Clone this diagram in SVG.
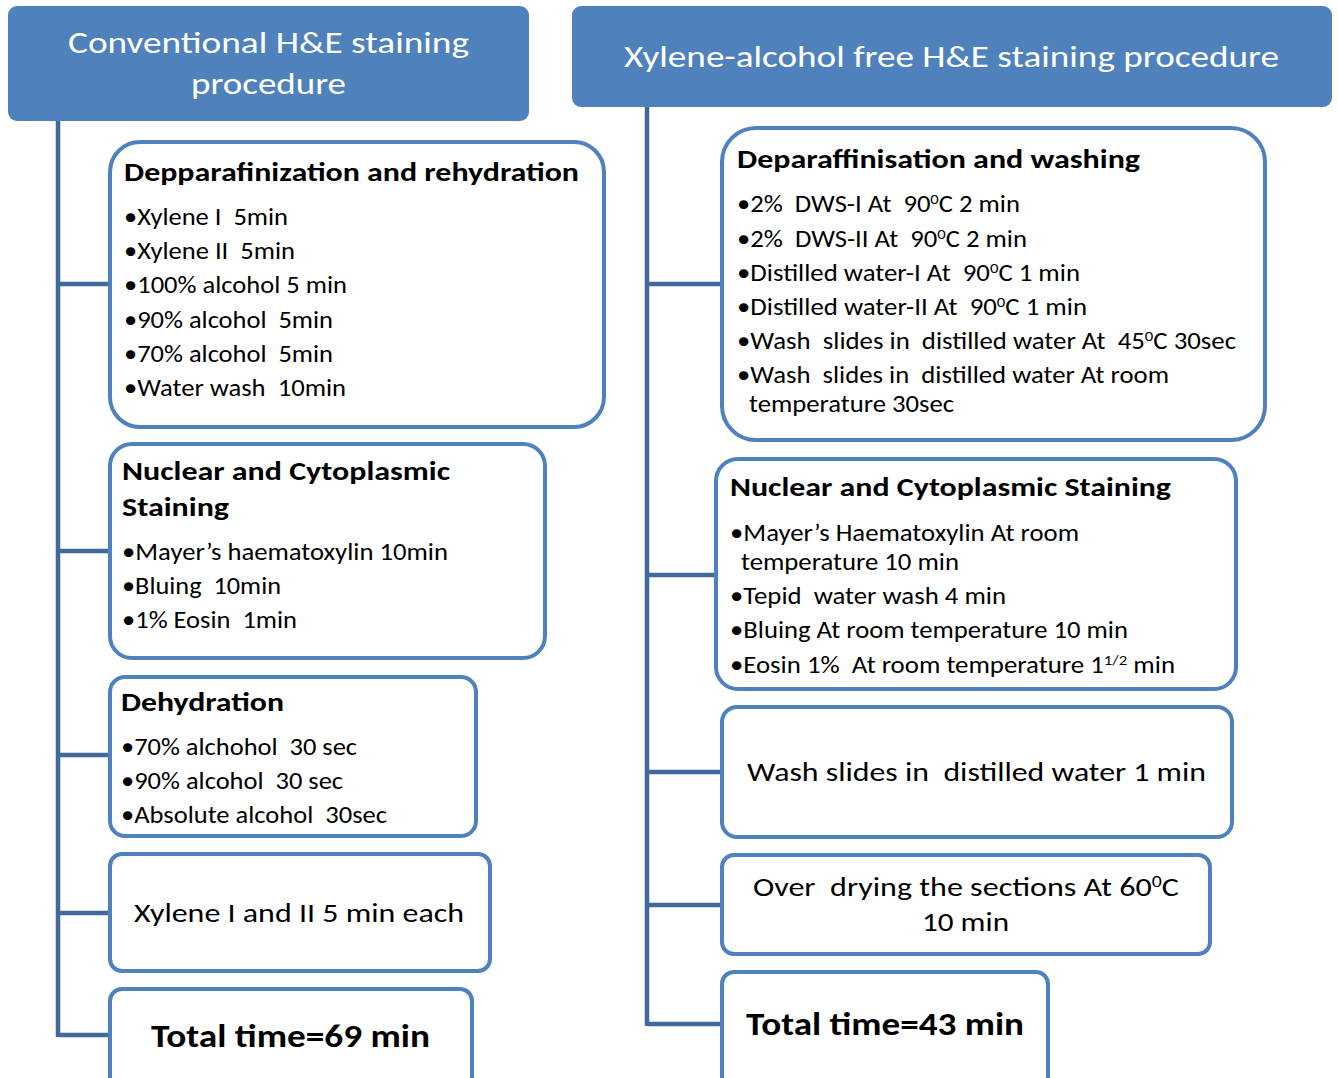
<svg xmlns="http://www.w3.org/2000/svg" width="1338" height="1078" viewBox="0 0 1338 1078" xml:space="preserve">
<style>
.hdr{fill:#4f81bd;stroke:none}
.box{fill:#ffffff;stroke:#4f81bd;stroke-width:4}
.conn{stroke:#41699c;stroke-width:4.5;fill:none}
text{font-family:Carlito,"Open Sans","Noto Sans",sans-serif;fill:#000;white-space:pre}
.ht{fill:#ffffff;font-size:31px}
.t{font-size:27px;font-weight:bold}
.b{font-size:24px}
.c{font-size:26px}
.tot{font-size:32px;font-weight:bold}
</style>
<rect width="1338" height="1078" fill="#ffffff"/>
<g id="connectors">
<path class="conn" d="M58 121V1037M58 284H110M58 551H110M58 755H110M58 913H110M58 1035H110"/>
<path class="conn" d="M647 107V1026M647 284H722M647 575H716M647 772H722M647 905H722M647 1024H722"/>
</g>
<g id="hdr-left">
<rect class="hdr" x="8" y="6" width="521" height="115" rx="9"/>
<text class="ht" x="68" y="53" textLength="401" lengthAdjust="spacingAndGlyphs">Conventional H&amp;E staining</text>
<text class="ht" x="191" y="94" textLength="155" lengthAdjust="spacingAndGlyphs">procedure</text>
</g>
<g id="hdr-right">
<rect class="hdr" x="572" y="6" width="760" height="101" rx="9"/>
<text class="ht" x="624" y="67" textLength="655" lengthAdjust="spacingAndGlyphs">Xylene-alcohol free H&amp;E staining procedure</text>
</g>
<g id="l1">
<rect class="box" x="110" y="142" width="494" height="285" rx="30"/>
<text class="t" x="124" y="181" textLength="455" lengthAdjust="spacingAndGlyphs">Depparafinization and rehydration</text>
<text class="b" x="124" y="225" textLength="164" lengthAdjust="spacingAndGlyphs">•Xylene I  5min</text>
<text class="b" x="124" y="259" textLength="171" lengthAdjust="spacingAndGlyphs">•Xylene II  5min</text>
<text class="b" x="124" y="293" textLength="223" lengthAdjust="spacingAndGlyphs">•100% alcohol 5 min</text>
<text class="b" x="124" y="328" textLength="209" lengthAdjust="spacingAndGlyphs">•90% alcohol  5min</text>
<text class="b" x="124" y="362" textLength="209" lengthAdjust="spacingAndGlyphs">•70% alcohol  5min</text>
<text class="b" x="124" y="396" textLength="222" lengthAdjust="spacingAndGlyphs">•Water wash  10min</text>
</g>
<g id="l2">
<rect class="box" x="110" y="444" width="435" height="214" rx="22"/>
<text class="t" x="122" y="480" textLength="328" lengthAdjust="spacingAndGlyphs">Nuclear and Cytoplasmic</text>
<text class="t" x="122" y="516" textLength="107" lengthAdjust="spacingAndGlyphs">Staining</text>
<text class="b" x="122" y="560" textLength="326" lengthAdjust="spacingAndGlyphs">•Mayer’s haematoxylin 10min</text>
<text class="b" x="122" y="594" textLength="159" lengthAdjust="spacingAndGlyphs">•Bluing  10min</text>
<text class="b" x="122" y="628" textLength="175" lengthAdjust="spacingAndGlyphs">•1% Eosin  1min</text>
</g>
<g id="l3">
<rect class="box" x="110" y="677" width="366" height="159" rx="15"/>
<text class="t" x="121" y="711" textLength="163" lengthAdjust="spacingAndGlyphs">Dehydration</text>
<text class="b" x="121" y="755" textLength="236" lengthAdjust="spacingAndGlyphs">•70% alchohol  30 sec</text>
<text class="b" x="121" y="789" textLength="222" lengthAdjust="spacingAndGlyphs">•90% alcohol  30 sec</text>
<text class="b" x="121" y="823" textLength="266" lengthAdjust="spacingAndGlyphs">•Absolute alcohol  30sec</text>
</g>
<g id="l4">
<rect class="box" x="110" y="854" width="380" height="117" rx="12"/>
<text class="c" x="134" y="922" textLength="330" lengthAdjust="spacingAndGlyphs">Xylene I and II 5 min each</text>
</g>
<g id="l5">
<rect class="box" x="110" y="989" width="362" height="110" rx="12"/>
<text class="tot" x="151" y="1047" textLength="279" lengthAdjust="spacingAndGlyphs">Total time=69 min</text>
</g>
<g id="r1">
<rect class="box" x="722" y="128" width="543" height="312" rx="34"/>
<text class="t" x="737" y="168" textLength="403" lengthAdjust="spacingAndGlyphs">Deparaffinisation and washing</text>
<text class="b" x="737" y="212" textLength="283" lengthAdjust="spacingAndGlyphs">•2%  DWS-I At  90<tspan dy="-8" font-size="15">0</tspan><tspan dy="8">C 2 min</tspan></text>
<text class="b" x="737" y="247" textLength="290" lengthAdjust="spacingAndGlyphs">•2%  DWS-II At  90<tspan dy="-8" font-size="15">0</tspan><tspan dy="8">C 2 min</tspan></text>
<text class="b" x="737" y="281" textLength="343" lengthAdjust="spacingAndGlyphs">•Distilled water-I At  90<tspan dy="-8" font-size="15">0</tspan><tspan dy="8">C 1 min</tspan></text>
<text class="b" x="737" y="315" textLength="350" lengthAdjust="spacingAndGlyphs">•Distilled water-II At  90<tspan dy="-8" font-size="15">0</tspan><tspan dy="8">C 1 min</tspan></text>
<text class="b" x="737" y="349" textLength="499" lengthAdjust="spacingAndGlyphs">•Wash  slides in  distilled water At  45<tspan dy="-8" font-size="15">0</tspan><tspan dy="8">C 30sec</tspan></text>
<text class="b" x="737" y="383" textLength="432" lengthAdjust="spacingAndGlyphs">•Wash  slides in  distilled water At room</text>
<text class="b" x="749" y="412" textLength="205" lengthAdjust="spacingAndGlyphs">temperature 30sec</text>
</g>
<g id="r2">
<rect class="box" x="716" y="459" width="520" height="230" rx="22"/>
<text class="t" x="730" y="496" textLength="441" lengthAdjust="spacingAndGlyphs">Nuclear and Cytoplasmic Staining</text>
<text class="b" x="730" y="541" textLength="349" lengthAdjust="spacingAndGlyphs">•Mayer’s Haematoxylin At room</text>
<text class="b" x="741" y="570" textLength="218" lengthAdjust="spacingAndGlyphs">temperature 10 min</text>
<text class="b" x="730" y="604" textLength="276" lengthAdjust="spacingAndGlyphs">•Tepid  water wash 4 min</text>
<text class="b" x="730" y="638" textLength="398" lengthAdjust="spacingAndGlyphs">•Bluing At room temperature 10 min</text>
<text class="b" x="730" y="673" textLength="445" lengthAdjust="spacingAndGlyphs">•Eosin 1%  At room temperature 1<tspan dy="-8" font-size="15">1/2</tspan><tspan dy="8"> min</tspan></text>
</g>
<g id="r3">
<rect class="box" x="722" y="707" width="510" height="130" rx="15"/>
<text class="c" x="747" y="781" textLength="459" lengthAdjust="spacingAndGlyphs">Wash slides in  distilled water 1 min</text>
</g>
<g id="r4">
<rect class="box" x="722" y="855" width="488" height="99" rx="12"/>
<text class="c" x="753" y="896" textLength="426" lengthAdjust="spacingAndGlyphs">Over  drying the sections At 60<tspan dy="-9" font-size="16">0</tspan><tspan dy="9">C</tspan></text>
<text class="c" x="922" y="931" textLength="87" lengthAdjust="spacingAndGlyphs">10 min</text>
</g>
<g id="r5">
<rect class="box" x="722" y="972" width="326" height="127" rx="12"/>
<text class="tot" x="746" y="1035" textLength="278" lengthAdjust="spacingAndGlyphs">Total time=43 min</text>
</g>
</svg>
